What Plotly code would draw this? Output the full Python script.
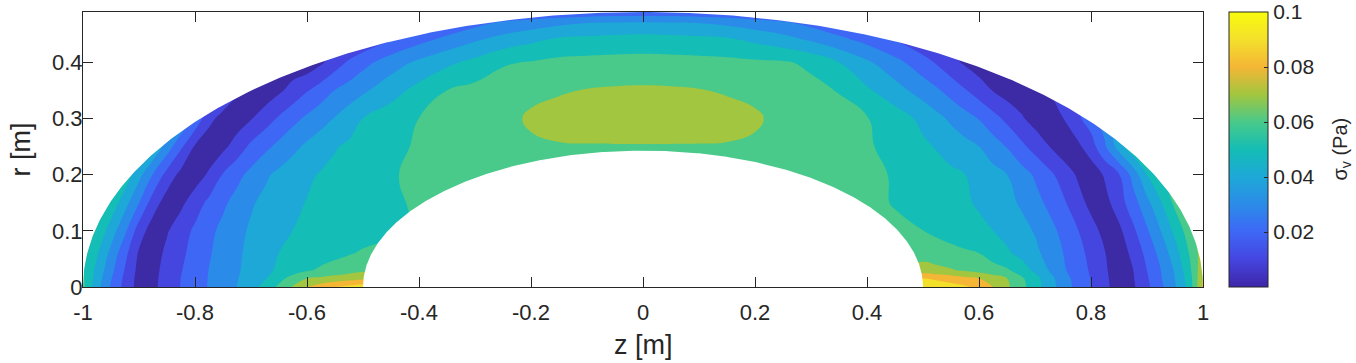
import numpy as np
import plotly.graph_objects as go

# ---------------- data (von Mises stress sigma_v, Pa) ----------------
Z_POS = [-1.0, -0.975, -0.95, -0.925, -0.9, -0.875, -0.85, -0.825, -0.8, -0.775, -0.75,
         -0.725, -0.7, -0.675, -0.65, -0.625, -0.6, -0.575, -0.55, -0.525, -0.5,
         -0.45, -0.4, -0.35, -0.3, -0.25, -0.2, -0.15, -0.1, -0.05, 0.0,
         0.05, 0.1, 0.15, 0.2, 0.25, 0.3, 0.35, 0.4, 0.45,
         0.5, 0.525, 0.55, 0.575, 0.6, 0.625, 0.65, 0.675, 0.7, 0.725, 0.75,
         0.775, 0.8, 0.825, 0.85, 0.875, 0.9, 0.925, 0.95, 0.975, 1.0]
R_POS = [0.0, 0.015, 0.03, 0.06, 0.1, 0.15, 0.2, 0.25, 0.3, 0.35, 0.4, 0.44, 0.47, 0.5]

SV_R000 = ([0.0625, 0.0438, 0.0290, 0.0167, 0.0060, 0.0078, 0.0144, 0.0204, 0.0256, 0.0307, 0.0354,
            0.0401, 0.0463, 0.0534, 0.0621, 0.0711, 0.0801, 0.0850, 0.0899, 0.0930, 0.0960]
           + [0.096, 0.096, 0.096, 0.096, 0.096, 0.096, 0.096, 0.096, 0.096, 0.096,
              0.096, 0.096, 0.096, 0.096, 0.096, 0.096, 0.096, 0.096, 0.096]
           + [0.1000, 0.0972, 0.0944, 0.0917, 0.0871, 0.0801, 0.0717, 0.0633, 0.0544, 0.0448, 0.0354,
              0.0271, 0.0201, 0.0126, 0.0051, 0.0085, 0.0177, 0.0279, 0.0391, 0.0533, 0.0820])
SV_R015 = ([0.0615, 0.0453, 0.0306, 0.0176, 0.0063, 0.0075, 0.0141, 0.0202, 0.0254, 0.0305, 0.0350,
            0.0395, 0.0444, 0.0494, 0.0569, 0.0638, 0.0701, 0.0720, 0.0740, 0.0760, 0.0780]
           + [0.085, 0.085, 0.085, 0.085, 0.085, 0.085, 0.085, 0.085, 0.085, 0.085,
              0.085, 0.085, 0.085, 0.085, 0.085, 0.085, 0.085, 0.085, 0.085]
           + [0.0905, 0.0879, 0.0853, 0.0826, 0.0801, 0.0750, 0.0701, 0.0619, 0.0537, 0.0439, 0.0343,
              0.0265, 0.0197, 0.0121, 0.0045, 0.0091, 0.0188, 0.0292, 0.0401, 0.0547, 0.0800])
SV_R030 = ([0.0610, 0.0472, 0.0329, 0.0194, 0.0069, 0.0069, 0.0136, 0.0195, 0.0249, 0.0302, 0.0346,
            0.0389, 0.0433, 0.0477, 0.0517, 0.0553, 0.0589, 0.0615, 0.0637, 0.0658, 0.0680]
           + [0.070, 0.070, 0.070, 0.070, 0.070, 0.070, 0.070, 0.070, 0.070, 0.070,
              0.070, 0.070, 0.070, 0.070, 0.070, 0.070, 0.070, 0.070, 0.070]
           + [0.0740, 0.0724, 0.0708, 0.0687, 0.0662, 0.0637, 0.0612, 0.0558, 0.0477, 0.0397, 0.0316,
              0.0251, 0.0188, 0.0115, 0.0038, 0.0098, 0.0201, 0.0301, 0.0412, 0.0567, 0.0780])
SV_R060 = ([0.0640, 0.0511, 0.0372, 0.0229, 0.0087, 0.0052, 0.0123, 0.0180, 0.0236, 0.0291, 0.0338,
            0.0384, 0.0425, 0.0464, 0.0501, 0.0520, 0.0538, 0.0557, 0.0575, 0.0593, 0.0611]
           + [0.063, 0.063, 0.063, 0.063, 0.063, 0.063, 0.063, 0.063, 0.063, 0.063,
              0.063, 0.063, 0.063, 0.063, 0.063, 0.063, 0.063, 0.063, 0.066]
           + [0.0660, 0.0645, 0.0630, 0.0615, 0.0601, 0.0558, 0.0517, 0.0471, 0.0423, 0.0366, 0.0301,
              0.0238, 0.0172, 0.0103, 0.0040, 0.0128, 0.0229, 0.0335, 0.0456, 0.0601, 0.0760])
SV_R100 = ([0.0700, 0.0583, 0.0450, 0.0317, 0.0150, 0.0047, 0.0091, 0.0156, 0.0218, 0.0275, 0.0326,
            0.0374, 0.0413, 0.0443, 0.0473, 0.0501, 0.0513, 0.0524, 0.0536, 0.0548, 0.0559]
           + [0.0582, 0.060, 0.060, 0.060, 0.060, 0.060, 0.060, 0.060, 0.060, 0.060,
              0.060, 0.060, 0.060, 0.060, 0.060, 0.060, 0.060, 0.060, 0.062]
           + [0.0601, 0.0580, 0.0560, 0.0540, 0.0520, 0.0501, 0.0465, 0.0431, 0.0393, 0.0335, 0.0274,
              0.0208, 0.0141, 0.0067, 0.0077, 0.0178, 0.0287, 0.0401, 0.0525, 0.0650, 0.0780])
SV_R150 = ([0.0830, 0.0700, 0.0570, 0.0437, 0.0301, 0.0150, 0.0051, 0.0078, 0.0153, 0.0223, 0.0281,
            0.0336, 0.0389, 0.0423, 0.0452, 0.0480, 0.0504, 0.0518, 0.0532, 0.0545, 0.0559]
           + [0.0586, 0.0612, 0.063, 0.063, 0.063, 0.063, 0.063, 0.063, 0.063, 0.063,
              0.063, 0.063, 0.063, 0.063, 0.063, 0.063, 0.063, 0.0625, 0.0594]
           + [0.0561, 0.0544, 0.0528, 0.0511, 0.0490, 0.0458, 0.0426, 0.0389, 0.0335, 0.0278, 0.0217,
              0.0145, 0.0070, 0.0067, 0.0154, 0.0257, 0.0371, 0.0495, 0.0625, 0.0750, 0.0850])
SV_R200 = ([0.0950, 0.0850, 0.0710, 0.0572, 0.0433, 0.0295, 0.0163, 0.0069, 0.0050, 0.0115, 0.0208,
            0.0270, 0.0329, 0.0384, 0.0422, 0.0453, 0.0484, 0.0508, 0.0525, 0.0542, 0.0558]
           + [0.0592, 0.062, 0.063, 0.064, 0.064, 0.064, 0.064, 0.064, 0.064, 0.064,
              0.064, 0.064, 0.064, 0.064, 0.064, 0.064, 0.063, 0.062, 0.0593]
           + [0.0554, 0.0536, 0.0518, 0.0501, 0.0467, 0.0433, 0.0401, 0.0344, 0.0288, 0.0225, 0.0159,
              0.0091, 0.0040, 0.0113, 0.0194, 0.0335, 0.0501, 0.0600, 0.0750, 0.0870, 0.1000])
SV_R250 = ([0.1000, 0.1000, 0.0900, 0.0750, 0.0630, 0.0494, 0.0356, 0.0217, 0.0088, 0.0036, 0.0075,
            0.0146, 0.0222, 0.0276, 0.0327, 0.0376, 0.0419, 0.0456, 0.0493, 0.0516, 0.0536]
           + [0.0576, 0.0612, 0.063, 0.0645, 0.066, 0.068, 0.0692, 0.0693, 0.0693, 0.0693,
              0.0693, 0.0693, 0.0692, 0.068, 0.066, 0.0645, 0.063, 0.061, 0.0573]
           + [0.0518, 0.0493, 0.0462, 0.0431, 0.0401, 0.0348, 0.0295, 0.0227, 0.0163, 0.0102, 0.0044,
              0.0073, 0.0152, 0.0287, 0.0444, 0.0580, 0.0700, 0.0800, 0.0900, 0.0950, 0.1000])
SV_R300 = ([0.1000, 0.1000, 0.0900, 0.0800, 0.0700, 0.0600, 0.0500, 0.0400, 0.0276, 0.0129, 0.0062,
            0.0046, 0.0094, 0.0154, 0.0214, 0.0270, 0.0320, 0.0363, 0.0406, 0.0453, 0.0501]
           + [0.055, 0.0601, 0.0624, 0.065, 0.066, 0.0718, 0.074, 0.0755, 0.0763, 0.0765,
              0.0763, 0.0755, 0.074, 0.0718, 0.066, 0.065, 0.063, 0.0605, 0.0549]
           + [0.0475, 0.0428, 0.0383, 0.0340, 0.0295, 0.0236, 0.0176, 0.0115, 0.0061, 0.0049, 0.0098,
              0.0176, 0.0250, 0.0350, 0.0450, 0.0550, 0.0650, 0.0750, 0.0850, 0.0930, 0.1000])
SV_R350 = ([0.1000, 0.1000, 0.1000, 0.0900, 0.0800, 0.0700, 0.0600, 0.0500, 0.0400, 0.0300, 0.0200,
            0.0110, 0.0050, 0.0035, 0.0083, 0.0135, 0.0193, 0.0249, 0.0303, 0.0343, 0.0383]
           + [0.0461, 0.0533, 0.0601, 0.063, 0.065, 0.067, 0.069, 0.0705, 0.0712, 0.0715,
              0.0712, 0.0705, 0.069, 0.067, 0.065, 0.063, 0.0595, 0.0515, 0.044]
           + [0.0356, 0.0314, 0.0263, 0.0209, 0.0152, 0.0097, 0.0055, 0.0035, 0.0060, 0.0102, 0.0150,
              0.0220, 0.0300, 0.0400, 0.0500, 0.0600, 0.0700, 0.0800, 0.0900, 0.0950, 0.1000])
SV_R400 = ([0.1000, 0.1000, 0.1000, 0.1000, 0.1000, 0.0900, 0.0800, 0.0700, 0.0600, 0.0500, 0.0400,
            0.0300, 0.0210, 0.0130, 0.0070, 0.0040, 0.0035, 0.0085, 0.0153, 0.0215, 0.0267]
           + [0.0352, 0.0421, 0.0479, 0.0529, 0.059, 0.0607, 0.0625, 0.063, 0.0633, 0.0635,
              0.0633, 0.063, 0.0625, 0.0618, 0.0612, 0.0579, 0.0501, 0.0417, 0.0333]
           + [0.0240, 0.0189, 0.0133, 0.0085, 0.0045, 0.0035, 0.0050, 0.0080, 0.0120, 0.0180, 0.0250,
              0.0330, 0.0420, 0.0520, 0.0620, 0.0720, 0.0820, 0.0900, 0.0950, 0.1000, 0.1000])
SV_R440 = ([0.1000, 0.1000, 0.1000, 0.0950, 0.0900, 0.0800, 0.0700, 0.0600, 0.0500, 0.0420, 0.0350,
            0.0270, 0.0200, 0.0140, 0.0080, 0.0050, 0.0040, 0.0045, 0.0060, 0.0090, 0.0120]
           + [0.020, 0.027, 0.033, 0.039, 0.044, 0.048, 0.052, 0.053, 0.054, 0.0545,
              0.054, 0.053, 0.052, 0.048, 0.044, 0.039, 0.033, 0.027, 0.020]
           + [0.0120, 0.0090, 0.0060, 0.0045, 0.0040, 0.0050, 0.0080, 0.0140, 0.0200, 0.0270, 0.0350,
              0.0420, 0.0500, 0.0600, 0.0700, 0.0800, 0.0900, 0.0950, 0.1000, 0.1000, 0.1000])
SV_R470 = ([0.1000, 0.1000, 0.1000, 0.1000, 0.1000, 0.0950, 0.0900, 0.0800, 0.0700, 0.0600, 0.0500,
            0.0400, 0.0300, 0.0220, 0.0150, 0.0102, 0.0060, 0.0045, 0.0040, 0.0060, 0.0080]
           + [0.013, 0.018, 0.022, 0.027, 0.032, 0.035, 0.038, 0.0402, 0.041, 0.0415,
              0.041, 0.0402, 0.038, 0.035, 0.032, 0.027, 0.022, 0.018, 0.013]
           + [0.0080, 0.0060, 0.0040, 0.0045, 0.0060, 0.0102, 0.0150, 0.0220, 0.0300, 0.0400, 0.0500,
              0.0600, 0.0700, 0.0800, 0.0900, 0.0950, 0.1000, 0.1000, 0.1000, 0.1000, 0.1000])
SV_R500 = ([0.1000, 0.1000, 0.1000, 0.1000, 0.1000, 0.1000, 0.1000, 0.0950, 0.0900, 0.0800, 0.0700,
            0.0600, 0.0502, 0.0402, 0.0302, 0.0202, 0.0120, 0.0080, 0.0050, 0.0045, 0.0040]
           + [0.005, 0.006, 0.008, 0.0102, 0.011, 0.012, 0.013, 0.014, 0.015, 0.015,
              0.015, 0.014, 0.013, 0.012, 0.011, 0.0102, 0.008, 0.006, 0.005]
           + [0.0040, 0.0045, 0.0050, 0.0080, 0.0120, 0.0202, 0.0302, 0.0402, 0.0502, 0.0600, 0.0700,
              0.0800, 0.0900, 0.0950, 0.1000, 0.1000, 0.1000, 0.1000, 0.1000, 0.1000, 0.1000])

SIGMA_V = [SV_R000, SV_R015, SV_R030, SV_R060, SV_R100, SV_R150, SV_R200,
           SV_R250, SV_R300, SV_R350, SV_R400, SV_R440, SV_R470, SV_R500]

X_TICKS = [-1, -0.8, -0.6, -0.4, -0.2, 0, 0.2, 0.4, 0.6, 0.8, 1]
X_TICKTEXT = ["-1", "-0.8", "-0.6", "-0.4", "-0.2", "0", "0.2", "0.4", "0.6", "0.8", "1"]
Y_TICKS = [0, 0.1, 0.2, 0.3, 0.4]
Y_TICKTEXT = ["0", "0.1", "0.2", "0.3", "0.4"]
CB_TICKS = [0.02, 0.04, 0.06, 0.08, 0.1]
CB_TICKTEXT = ["0.02", "0.04", "0.06", "0.08", "0.1"]

# ---------------- geometry of the domain (elliptic annulus) ----------------
OUTER_A, OUTER_B = 1.0, 0.49
INNER_A, INNER_B = 0.5, 0.243

# ---------------- styles ----------------
LEVEL_START, LEVEL_END, LEVEL_STEP = 0.01, 0.09, 0.01
BAND_COLORS = ["#3d2aa5", "#4545e0", "#3e67f6", "#2b8be8", "#1ea8d8",
               "#14bdb5", "#49c98a", "#a2c63f", "#f5b636", "#f3e02b"]
PARULA = [[0.0, "#3e26a8"], [0.1, "#4545e0"], [0.2, "#3e67f6"], [0.3, "#2b8be8"],
          [0.4, "#1ea8d8"], [0.5, "#14bdb5"], [0.6, "#49c98a"], [0.7, "#a2c63f"],
          [0.8, "#f5b636"], [0.9, "#f3e02b"], [1.0, "#f9fb0e"]]
FONT = "Liberation Sans, Arial, Helvetica, sans-serif"
INK = "#262626"

W, H = 1356, 363
ML, MR, MT, MB = 83, 153, 12, 76
PW, PH = W - ML - MR, H - MT - MB

n_bands = len(BAND_COLORS)
band_scale = [[k / (n_bands - 1), c] for k, c in enumerate(BAND_COLORS)]

fig = go.Figure()
fig.add_trace(go.Contour(
    x=Z_POS, y=R_POS, z=SIGMA_V,
    autocontour=False,
    contours=dict(start=LEVEL_START, end=LEVEL_END, size=LEVEL_STEP,
                  coloring="fill", showlines=False),
    colorscale=band_scale, showscale=False,
    line=dict(width=0, smoothing=1.3),
    hoverinfo="skip",
))

# white masks outside the elliptic annulus
t = np.linspace(0, np.pi, 400)
ox = list(-OUTER_A * np.cos(t))
oy = list(OUTER_B * np.sin(t))
fig.add_trace(go.Scatter(
    x=[-OUTER_A - 0.05] + ox + [OUTER_A + 0.05, OUTER_A + 0.05, -OUTER_A - 0.05],
    y=[0] + oy + [0, 0.6, 0.6],
    mode="lines", fill="toself", fillcolor="white", line=dict(width=0, color="white"),
    hoverinfo="skip", showlegend=False))
ix = list(-INNER_A * np.cos(t))
iy = list(INNER_B * np.sin(t))
fig.add_trace(go.Scatter(
    x=ix + [INNER_A, -INNER_A],
    y=iy + [-0.02, -0.02],
    mode="lines", fill="toself", fillcolor="white", line=dict(width=0, color="white"),
    hoverinfo="skip", showlegend=False))

# continuous colour bar
fig.add_trace(go.Scatter(
    x=[None, None], y=[None, None], mode="markers",
    marker=dict(color=[0, 0.1], cmin=0, cmax=0.1, colorscale=PARULA, showscale=True,
                colorbar=dict(
                    x=(1229 - ML) / PW, xanchor="left", y=0.5, yanchor="middle",
                    len=1, lenmode="fraction", thickness=39, thicknessmode="pixels",
                    xpad=0, ypad=0, outlinewidth=1, outlinecolor=INK,
                    tickvals=CB_TICKS, ticktext=CB_TICKTEXT,
                    ticks="inside", ticklen=4, tickwidth=1, tickcolor=INK,
                    tickfont=dict(family=FONT, size=21, color=INK),
                )),
    hoverinfo="skip", showlegend=False))

fig.update_layout(
    width=W, height=H,
    margin=dict(l=ML, r=MR, t=MT, b=MB, autoexpand=False),
    paper_bgcolor="white", plot_bgcolor="white",
    font=dict(family=FONT, color=INK),
    showlegend=False,
    xaxis=dict(range=[-1, 1], tickvals=X_TICKS, ticktext=X_TICKTEXT, automargin=False,
               ticks="inside", ticklen=10, tickwidth=1, tickcolor=INK,
               showline=True, linecolor=INK, linewidth=1, mirror="ticks",
               showgrid=False, zeroline=False, ticklabelstandoff=6,
               tickfont=dict(family=FONT, size=22, color=INK)),
    yaxis=dict(range=[0, 0.49], tickvals=Y_TICKS, ticktext=Y_TICKTEXT, automargin=False,
               ticks="inside", ticklen=10, tickwidth=1, tickcolor=INK,
               showline=True, linecolor=INK, linewidth=1, mirror="ticks",
               showgrid=False, zeroline=False, ticklabelstandoff=-5,
               tickfont=dict(family=FONT, size=22, color=INK)),
    annotations=[
        dict(text="z [m]", x=0.5, y=(MT + PH - 345) / PH, xref="paper", yref="paper",
             xanchor="center", yanchor="middle", showarrow=False,
             font=dict(family=FONT, size=27, color=INK)),
        dict(text="r [m]", x=(20 - ML) / PW, y=0.5, xref="paper", yref="paper",
             xanchor="center", yanchor="middle", showarrow=False, textangle=-90,
             font=dict(family=FONT, size=27, color=INK)),
        dict(text="σ<sub>v</sub> (Pa)", x=(1341 - ML) / PW, y=0.5, xref="paper", yref="paper",
             xanchor="center", yanchor="middle", showarrow=False, textangle=-90,
             font=dict(family=FONT, size=20, color=INK)),
    ],
)

fig.write_html("out.html", config={"displayModeBar": False},
               post_script="document.body.style.margin='0px';document.body.style.overflow='hidden';")
